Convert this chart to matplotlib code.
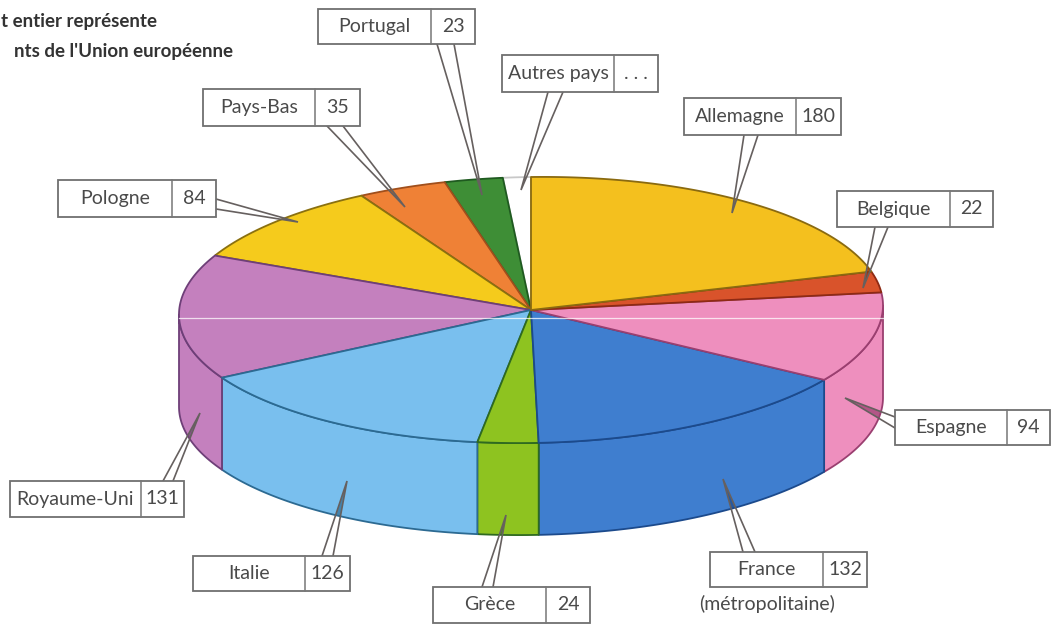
import numpy as np
import matplotlib
matplotlib.use("Agg")
import matplotlib.pyplot as plt
from matplotlib.patches import Polygon, Rectangle

# pays et valeurs, dans le sens des aiguilles depuis le haut du disque
countries = ["Allemagne", "Belgique", "Espagne", "France", "Grèce", "Italie",
             "Royaume-Uni", "Pologne", "Pays-Bas", "Portugal", "Autres pays"]
values = [180, 22, 94, 132, 24, 126, 131, 84, 35, 23, 11]
value_labels = ["180", "22", "94", "132", "24", "126", "131", "84", "35", "23", ". . ."]

colors = ["#F4C01E", "#D9532B", "#EE8FBE", "#3F7ECF", "#8EC320", "#79BFEE",
          "#C480BE", "#F5CB1C", "#EF8136", "#3E8E36", "#FFFFFF"]
edges = ["#8A6A10", "#8E2A14", "#9A3F70", "#1C4A8C", "#2F6A20", "#2C6A92",
         "#6E3F78", "#8A7010", "#A04F1C", "#1F5A20", "#C8C8C8"]

# boites : gauche, haut, droite, bas, separateur
boxes = [(684, 98, 841, 135, 796), (837, 191, 993, 227, 950), (895, 410, 1050, 445, 1007),
         (710, 552, 867, 587, 823), (433, 587, 590, 623, 546), (193, 556, 350, 591, 305),
         (10, 481, 184, 517, 141), (58, 180, 216, 217, 172), (203, 89, 360, 126, 315),
         (318, 9, 475, 44, 431), (502, 55, 658, 92, 614)]
# pointeurs : base 1, base 2, pointe
pointers = [((744, 135), (758, 135), (732, 213)), ((875, 227), (888, 227), (863, 288)),
            ((895, 417), (895, 428), (845, 398)), ((743, 552), (755, 552), (723, 479)),
            ((482, 587), (493, 587), (506, 515)), ((322, 556), (333, 556), (347, 481)),
            ((163, 481), (173, 481), (200, 413)), ((216, 199), (216, 209), (298, 222)),
            ((327, 126), (343, 126), (405, 207)), ((437, 44), (454, 44), (482, 195)),
            ((548, 92), (563, 92), (521, 190))]

cx, cy, rx, ry, depth = 531, 310, 352, 133, 92
tilt = 0.013  # le scan penche un peu
label_font = "Lato"


def rim(a0, a1, n=120):
    t = np.radians(np.linspace(a0, a1, n))
    x = cx + rx * np.sin(t)
    y = cy - ry * np.cos(t) - tilt * (x - cx)
    return np.column_stack([x, y])


fig = plt.figure(figsize=(10.51, 6.26), dpi=100)
ax = fig.add_axes([0, 0, 1, 1])
ax.set_xlim(0, 1051)
ax.set_ylim(626, 0)
ax.axis("off")

# fond blanc des pointeurs, sous le disque
for b1, b2, tip in pointers:
    ax.add_patch(Polygon([b1, tip, b2], fc="white", ec="none", zorder=1))

angles = np.concatenate([[0], np.cumsum(values) / np.sum(values) * 360])

# flanc du cylindre
for i in range(len(values)):
    a0, a1 = max(angles[i], 90), min(angles[i + 1], 270)
    if a1 <= a0:
        continue
    top = rim(a0, a1)
    bottom = top + [0, depth]
    ax.add_patch(Polygon(np.vstack([top, bottom[::-1]]), fc=colors[i], ec=edges[i],
                         lw=1.3, joinstyle="round", zorder=2))

# dessus du disque, a l'envers pour garder le bord vert sur le blanc
for i in range(len(values) - 1, -1, -1):
    arc = rim(angles[i], angles[i + 1])
    ax.add_patch(Polygon(np.vstack([[cx, cy], arc]), fc=colors[i], ec=edges[i],
                         lw=1.3, joinstyle="round", zorder=3))

# trait clair du scan
ax.plot([cx - rx, cx + rx], [318, 318], color="white", lw=0.9, alpha=0.75, zorder=4)

# silhouette du disque, pour assombrir la pointe dans les couleurs
outline = np.vstack([rim(-90, 90), rim(90, 270) + [0, depth]])
outline_patch = Polygon(outline, fc="none", ec="none", transform=ax.transData)
ax.add_patch(outline_patch)

for i, (b1, b2, tip) in enumerate(pointers):
    dark = Polygon([b1, tip, b2], fc=edges[i] if i != 10 else "#666666", ec="none", alpha=0.7, zorder=5)
    ax.add_patch(dark)
    dark.set_clip_path(outline_patch)
    ax.plot([b1[0], tip[0], b2[0]], [b1[1], tip[1], b2[1]], color="#66605F", lw=1.2,
            solid_joinstyle="miter", zorder=5)

for name, label, (x0, y0, x1, y1, xm) in zip(countries, value_labels, boxes):
    ax.add_patch(Rectangle((x0, y0), x1 - x0, y1 - y0, fc="white", ec="#6F6F6F", lw=1.3, zorder=6))
    ax.plot([xm, xm], [y0, y1], color="#777777", lw=1.1, zorder=7)
    ym = (y0 + y1) / 2
    ax.text((x0 + xm) / 2, ym, name, ha="center", va="center", fontsize=14,
            family=label_font, color="#4A4A4A", zorder=8)
    ax.text((xm + x1) / 2, ym, label, ha="center", va="center", fontsize=14,
            family=label_font, color="#4A4A4A", zorder=8)

ax.text(767, 604, "(métropolitaine)", ha="center", va="center", fontsize=14,
        family=label_font, color="#4A4A4A")

# titre du haut, debut de ligne absent de l'original
ax.text(157, 21, "t entier représente", ha="right", va="center", fontsize=13.5,
        family=label_font, weight="bold", color="#333333")
ax.text(233, 52, "nts de l'Union européenne", ha="right", va="center", fontsize=13.5,
        family=label_font, weight="bold", color="#333333")

fig.savefig("out.png", dpi=100)
